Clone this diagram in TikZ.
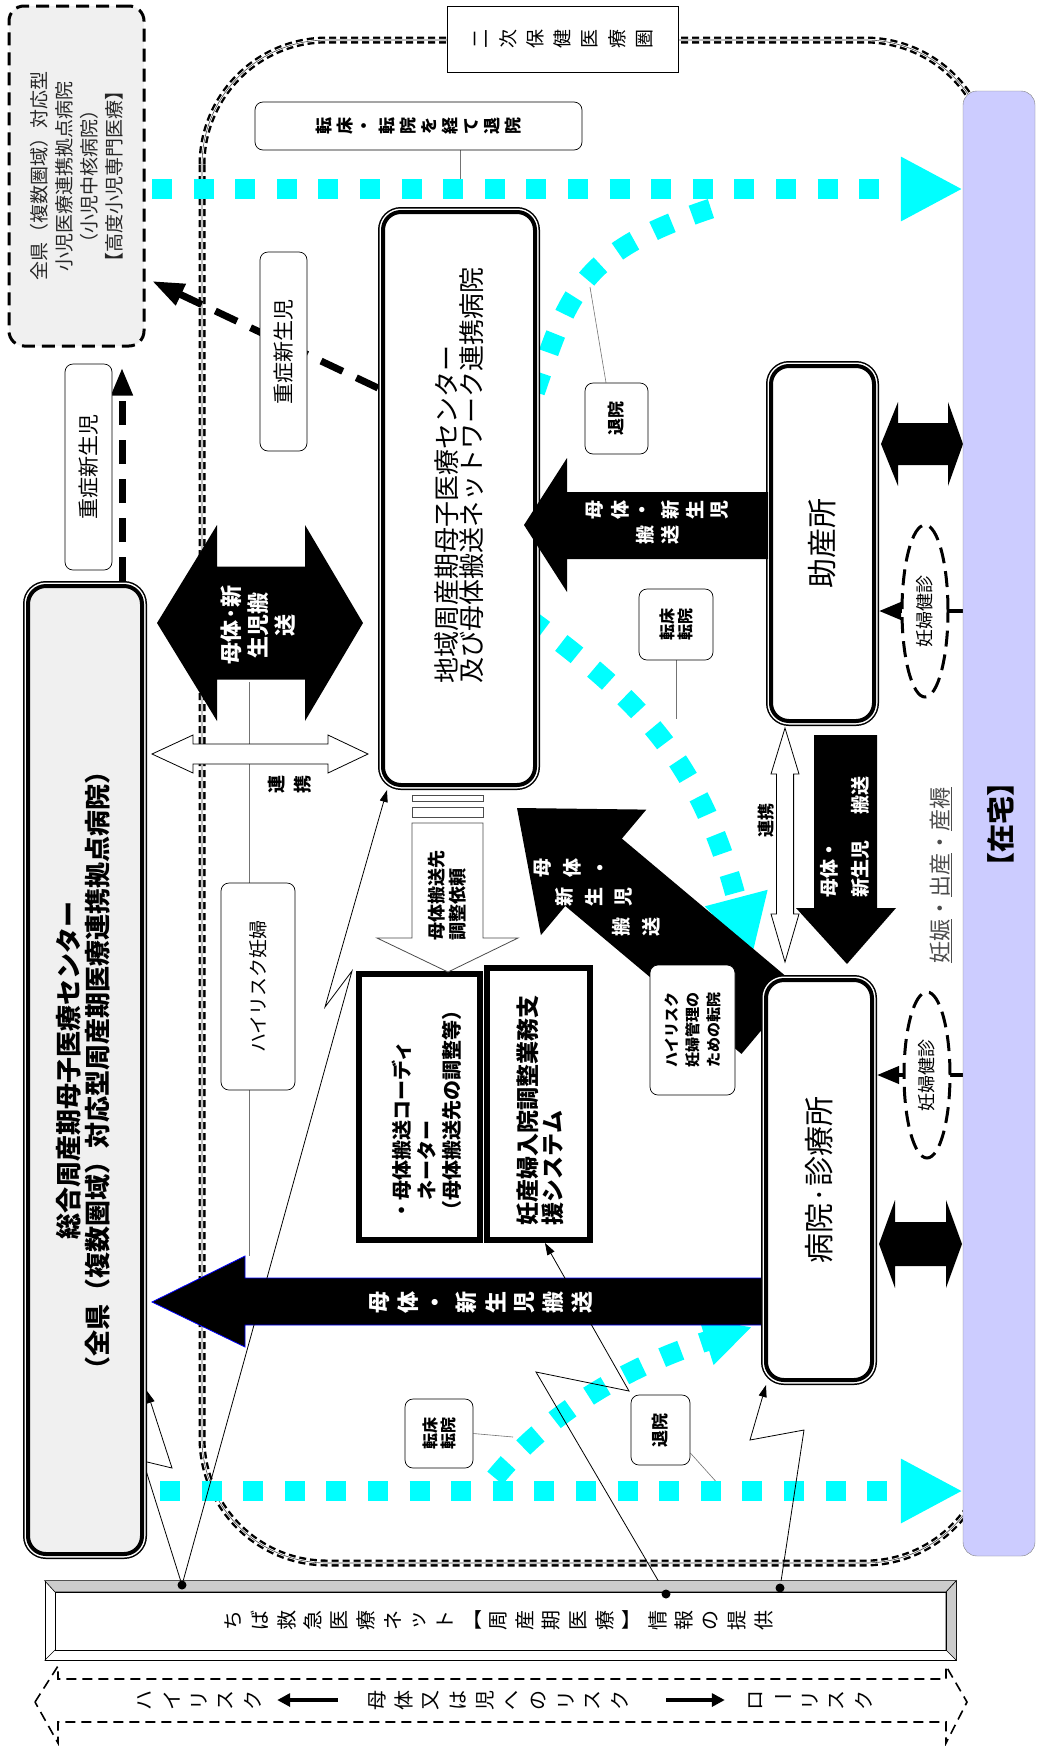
\documentclass[tikz,border=0pt]{standalone}
\usepackage{fontspec}
\usepackage{graphicx}
\setmainfont{Noto Sans CJK JP}
\usetikzlibrary{arrows.meta,shapes.geometric,backgrounds}
\definecolor{zaitakublue}{RGB}{204,204,255}
\definecolor{flowcyan}{RGB}{0,255,255}
\lineskiplimit=-\maxdimen
\makeatletter
\newcommand\tate[2]{\vbox{\offinterlineskip\@tfor\tch:=#2\do{\vbox to #1{\vss\hbox to 1.2em{\hss\tch\hss}\vss}}}}
\makeatother
\newcommand\urot[1]{\rotatebox[origin=c]{-90}{#1}}
\newcommand\fs[2]{\fontsize{#1}{#2}\selectfont}
\begin{document}
\begin{tikzpicture}[x=1pt,y=-1pt,
	facbox/.style={draw, fill=white, line width=4pt, rounded corners=18pt, inner sep=0pt, outer sep=5pt,
		preaction={draw, line width=10pt}, preaction={draw=white, line width=7pt}},
	tagbox/.style={draw, fill=white, line width=0.7pt, rounded corners=8pt, inner sep=0pt},
	thickbox/.style={draw, fill=white, line width=6pt, inner sep=0pt},
	kenshin/.style={ellipse, draw, fill=white, line width=3pt, dash pattern=on 16pt off 8pt, inner sep=0pt, minimum width=46pt},
	rtxt/.style={rotate=90, inner sep=0pt},
	leader/.style={draw=black!55, line width=0.6pt},
	flow/.style={flowcyan, line width=20pt, dash pattern=on 20pt off 21.6pt},
	bolt/.style={line width=0.8pt, -{Triangle[length=12pt,width=8pt]}},
	bigdash/.style={line width=7pt, dash pattern=on 24pt off 15pt},
	blockw/.style={fill=white, draw, line width=0.8pt},
	riskarrow/.style={line width=4pt, -{Triangle[length=13pt,width=13pt]}}]

	\useasboundingbox (0,0) rectangle (1038,1746);

	\node[draw, fill=gray!12, line width=3pt, dash pattern=on 13pt off 7pt, rounded corners=15pt, inner sep=0pt, minimum width=135pt, minimum height=340pt] (ped) at (76.5,176) {};
	\node[rtxt, align=center, text=black!85, font=\fs{19}{25}] (pedtxt) at (ped.center) {全県（複数圏域）対応型\\小児医療連携拠点病院\\（小児中核病院）\\【高度小児専門医療】};

	\node[tagbox, minimum width=47pt, minimum height=206pt] (sevA) at (88.5,467) {};
	\node[rtxt, font=\fs{21}{24}] (sevAtxt) at (sevA.center) {重症新生児};
	\node[tagbox, minimum width=47pt, minimum height=199pt] (sevB) at (283.5,351.5) {};
	\node[rtxt, font=\fs{21}{24}] (sevBtxt) at (sevB.center) {重症新生児};

	\node[draw, fill=white, line width=0.7pt, inner sep=0pt, minimum width=231pt, minimum height=66pt] (niji) at (562.5,39) {};
	\node[rtxt, font=\fs{19}{21}] (nijitxt) at (niji.center) {\tate{27.3pt}{二次保健医療圏}};
	\node[tagbox, minimum width=327pt, minimum height=48pt] (tenkei) at (418.5,126) {};
	\node[rtxt, font=\bfseries\fs{17}{19}] (tenkeitxt) at (tenkei.center) {\tate{21pt}{転床・転院を経て退院}};

	\node[facbox, minimum width=152pt, minimum height=573pt] (chiiki) at (459,498.5) {};
	\node[rtxt, align=left, font=\fs{26}{25}] (chiikitxt) at (459,475) {地域周産期母子医療センター\\及び母体搬送ネットワーク連携病院};
	\node[facbox, fill=gray!12, minimum width=114pt, minimum height=968pt] (sogo) at (85,1070) {};
	\node[rtxt, align=center, font=\bfseries\fs{26}{29}] (sogotxt) at (83,1070) {総合周産期母子医療センター\\（全県（複数圏域）対応型周産期医療連携拠点病院）};
	\node[facbox, minimum width=103pt, minimum height=355pt] (josan) at (822.5,543.5) {};
	\node[rtxt, font=\fs{30}{32}] (josantxt) at (josan.center) {助産所};
	\node[facbox, minimum width=106pt, minimum height=400pt] (byoin) at (819,1180) {};
	\node[rtxt, font=\fs{30}{32}] (byointxt) at (byoin.center) {病院·診療所};
	\node[draw=black!50, fill=zaitakublue, rounded corners=14pt, inner sep=0pt, minimum width=72pt, minimum height=1465pt] (zaitaku) at (999,823.5) {};
	\node[rtxt, font=\bfseries\fs{28}{30}] (zaitakutxt) at (1001,824) {【在宅】};

	\node[tagbox, minimum width=74pt, minimum height=207pt] (hrisk) at (258,986.5) {};
	\node[rtxt, font=\fs{19}{21}] (hrisktxt) at (hrisk.center) {ハイリスク妊婦};
	\node[tagbox, minimum width=63pt, minimum height=71pt] (taiinA) at (616.5,418.5) {};
	\node[rtxt, font=\bfseries\fs{17}{19}] (taiinAtxt) at (taiinA.center) {退院};
	\node[tagbox, minimum width=74pt, minimum height=71pt] (tenA) at (676,624.5) {};
	\node[rtxt, align=left, font=\bfseries\fs{16}{18}] (tenAtxt) at (tenA.center) {転床\\転院};
	\node[tagbox, minimum width=68pt, minimum height=69pt] (tenB) at (439,1433.5) {};
	\node[rtxt, align=left, font=\bfseries\fs{16}{18}] (tenBtxt) at (tenB.center) {転床\\転院};
	\node[tagbox, minimum width=59pt, minimum height=70pt] (taiinB) at (660.5,1430) {};
	\node[rtxt, font=\bfseries\fs{17}{19}] (taiinBtxt) at (taiinB.center) {退院};

	\node[thickbox, minimum width=121pt, minimum height=266pt] (coord) at (419.5,1107) {};
	\node[rtxt, align=left, font=\bfseries\fs{20}{25}] (coordtxt) at (427,1110) {・母体搬送コーディ\\\hspace*{1em}ネーター\\（母体搬送先の調整等）};
	\node[thickbox, minimum width=103pt, minimum height=272pt] (system) at (538.5,1104) {};
	\node[rtxt, align=left, font=\bfseries\fs{23}{25}] (systemtxt) at (540.5,1110) {妊産婦入院調整業務支\\援システム};

	\draw[blockw, draw=black!70] (412,795) rectangle (483,801);
	\draw[blockw, draw=black!70] (412,807) rectangle (483,817);
	\draw[blockw, draw=black!70] (412,823) -- (483,823) -- (483,938) -- (518,938) -- (448,972) -- (377,938) -- (412,938) -- cycle;
	\node[rtxt, align=left, font=\bfseries\fs{18}{21}] (irai) at (447.5,895) {母体搬送先\\調整依頼};

	\fill (524,525) -- (567,458) -- (567,492) -- (768,492) -- (768,559) -- (567,559) -- (567,592) -- cycle;
	\node[rtxt, text=white, font=\bfseries\fs{19}{21}] (wa) at (657.5,510) {\tate{25pt}{母体・新生児}};
	\node[rtxt, text=white, font=\bfseries\fs{19}{21}] (wb) at (658,535) {\tate{25pt}{搬送}};

	\node[kenshin, minimum height=172pt] (kenA) at (925,611) {};
	\node[rtxt, font=\fs{18}{20}] (kenAtxt) at (kenA.center) {妊婦健診};
	\node[kenshin, minimum height=166pt] (kenB) at (927,1075) {};
	\node[rtxt, font=\fs{18}{20}] (kenBtxt) at (kenB.center) {妊婦健診};
	\node[rtxt, text=black!70, font=\fs{22}{24}] (ninshin) at (941,875) {\underline{妊娠}・\underline{出産}・\underline{産褥}};

	\node[rtxt, align=center, text=white, font=\bfseries\fs{22}{27}] (ktxt) at (258,625) {母体·新\\生児搬\\送};
	\node[rtxt, font=\bfseries\fs{18}{20}] (renkeiA) at (290,784) {\tate{26pt}{連携}};
	\node[rtxt, text=white, font=\bfseries\fs{22}{24}] (rtxt1) at (481,1302) {\tate{29pt}{母体・新生児搬送}};
	\node[rtxt, align=left, text=white, font=\bfseries\fs{19}{31}] (ztxt) at (844.5,837) {母体・\\新生児\hspace{1.4em}搬送};
	\node[rtxt, font=\bfseries\fs{17}{19}] (renkeiB) at (766,820) {連携};
	\node[rtxt, text=white, font=\bfseries\fs{19}{21}] (da) at (572.5,868) {\tate{30pt}{母体・}};
	\node[rtxt, text=white, font=\bfseries\fs{19}{21}] (db) at (594,897) {\tate{30pt}{新生児}};
	\node[rtxt, text=white, font=\bfseries\fs{19}{21}] (dc) at (636,927) {\tate{30pt}{搬送}};
	\node[tagbox, minimum width=85pt, minimum height=130pt] (hrtrans) at (692.5,1030) {};
	\node[rtxt, align=left, font=\bfseries\fs{15}{21}] (hrtranstxt) at (hrtrans.center) {ハイリスク\\妊婦管理の\\ための転院};

	\node[draw, fill=white, line width=0.8pt, inner sep=0pt, minimum width=911pt, minimum height=79pt] (net) at (500.5,1620.5) {};
	\filldraw[fill=gray!40, line width=0.6pt] (net.north west) -- (net.north east) -- (946,1592) -- (55,1592) -- cycle;
	\filldraw[fill=gray!40, line width=0.6pt] (net.north east) -- (net.south east) -- (946,1650) -- (946,1592) -- cycle;
	\draw[line width=0.6pt] (55,1592) rectangle (946,1650);
	\draw[line width=0.6pt] (net.south west) -- (55,1650);
	\node[rtxt, font=\fs{20}{22}] (nettxt) at (498.5,1620) {\tate{26.5pt}{ちば救急医療ネット{\urot{【}}周産期医療{\urot{】}}情報の提供}};
	\coordinate (dotA) at (182,1585);
	\coordinate (dotB) at (666,1594);
	\coordinate (dotC) at (780,1588);
	\fill (dotA) circle (4.5pt);
	\fill (dotB) circle (4.5pt);
	\fill (dotC) circle (4.5pt);

	\draw[line width=1.6pt, dash pattern=on 10pt off 6pt] (35,1702) -- (58,1666) -- (58,1679) -- (946,1679) -- (946,1666) -- (967,1702) -- (946,1743) -- (946,1722) -- (58,1722) -- (58,1743) -- cycle;
	\node[rtxt, font=\fs{20}{22}] (hr) at (199,1700) {\tate{27pt}{ハイリスク}};
	\node[rtxt, font=\fs{20}{22}] (mid) at (498.5,1700) {\tate{27pt}{母体又は児へのリスク}};
	\node[rtxt, font=\fs{20}{22}] (lr) at (810,1700) {\tate{27pt}{ロ{\urot{ー}}リスク}};
	\draw[riskarrow] ([xshift=-25.5pt]mid.north) -- ([xshift=10.5pt]hr.south);
	\draw[riskarrow] ([xshift=32.5pt]mid.south) -- ([xshift=-17.5pt]lr.north);

	\begin{scope}[on background layer]
	\fill[white] (0,0) rectangle (1038,1746);
	\draw[line width=7pt, dash pattern=on 7pt off 4pt, rounded corners=125pt] (202,40) rectangle (990,1563);
	\draw[white, line width=2.2pt, rounded corners=125pt] (202,40) rectangle (990,1563);
	\draw[black!70, line width=0.6pt, rounded corners=125pt] (202,40) rectangle (990,1563);

	\draw[leader] (249,682) -- (249,1256);
	\draw[leader] ([xshift=41.5pt]tenkei.south) -- (460,181);
	\draw[leader] ([xshift=-10.5pt]taiinA.north) -- (590,287);
	\draw[leader] (tenA.south) -- (676,719);
	\draw[leader] (tenB.east) -- (513,1437);
	\draw[leader] ([yshift=-23pt]taiinB.east) -- (720,1486);

	\coordinate (cyTop) at (152,189);
	\coordinate (cyLow) at (160,1491);
	\draw[flow, -{Triangle[length=62pt,width=60pt]}] (cyTop) -- (zaitaku.west |- cyTop);
	\draw[flow] (535,392) .. controls (570,290) and (580,250) .. (722,205);
	\draw[flow, -{Triangle[length=62pt,width=60pt]}] (528,618) .. controls (640,700) and (700,760) .. ([xshift=-9pt,yshift=17pt]byoin.north west);
	\draw[flow, -{Triangle[length=62pt,width=60pt]}] (cyLow) -- (zaitaku.west |- cyLow);
	\draw[flow, -{Triangle[length=48pt,width=46pt]}] (495,1478) .. controls (555,1405) and (640,1362) .. ([xshift=-9pt,yshift=58pt]byoin.south west);

	\fill (517,808) -- (646.3,809.6) -- (621.9,838.6) -- (798.1,986.5) -- (741.5,1053.9) -- (565.3,906.0) -- (540.9,935.1) -- cycle;
	\filldraw[draw=blue, line width=0.8pt] (152,1302) -- (245,1256) -- (245,1278) -- (766,1278) -- (766,1325) -- (245,1325) -- (245,1347) -- cycle;
	\fill (157,623) -- (217,525) -- (217,566.5) -- (305,566.5) -- (305,525) -- (363,623) -- (305,721) -- (305,679.5) -- (217,679.5) -- (217,721) -- cycle;
	\draw[blockw] (152,754) -- (193,735) -- (193,744) -- (328,744) -- (328,735) -- (368,754) -- (328,773) -- (328,764) -- (193,764) -- (193,773) -- cycle;
	\draw[blockw] (785,728) -- (799,774) -- (793.6,774) -- (793.6,914) -- (799,914) -- (785,962) -- (771,914) -- (776.4,914) -- (776.4,774) -- (771,774) -- cycle;
	\fill (814,735) -- (877,735) -- (877,908) -- (896,908) -- (847,964) -- (796,908) -- (814,908) -- cycle;
	\fill (881,444) -- (898,402) -- (898,423) -- (948,423) -- (948,402) -- (963,444) -- (948,486) -- (948,465) -- (898,465) -- (898,486) -- cycle;
	\fill (879,1244) -- (895,1200) -- (895,1222) -- (946,1222) -- (946,1200) -- (962,1244) -- (946,1288) -- (946,1266) -- (895,1266) -- (895,1288) -- cycle;

	\draw[line width=4pt, -{Triangle[length=22pt,width=17pt]}] (zaitaku.west |- kenA.center) -- (josan.east |- kenA.center);
	\draw[line width=4pt, -{Triangle[length=22pt,width=17pt]}] (zaitaku.west |- kenB.center) -- (byoin.east |- kenB.center);

	\draw[bolt] (dotA) -- (352,971) -- (325,1007) -- ([xshift=9pt]chiiki.south west);
	\draw[bolt] (dotA) -- (143,1461) -- (172,1468) -- ([yshift=168pt]sogo.south east);
	\draw[bolt] (dotB) -- (536,1372) -- (629,1391) -- ([xshift=6.5pt]system.south);
	\draw[bolt] (dotC) -- (804,1430) -- (750,1440) -- ([xshift=5pt]byoin.south west);

	\draw[bigdash, -{Triangle[length=32pt,width=22pt]}] ([yshift=-181pt]chiiki.north west) -- ([shift={(6.5pt,-105pt)}]ped.east);
	\draw[bigdash, -{Triangle[length=28pt,width=20pt]}] ([xshift=37pt]sogo.north) -- ([xshift=45.5pt,yshift=-20pt]ped.south);
	\end{scope}
\end{tikzpicture}
\end{document}
